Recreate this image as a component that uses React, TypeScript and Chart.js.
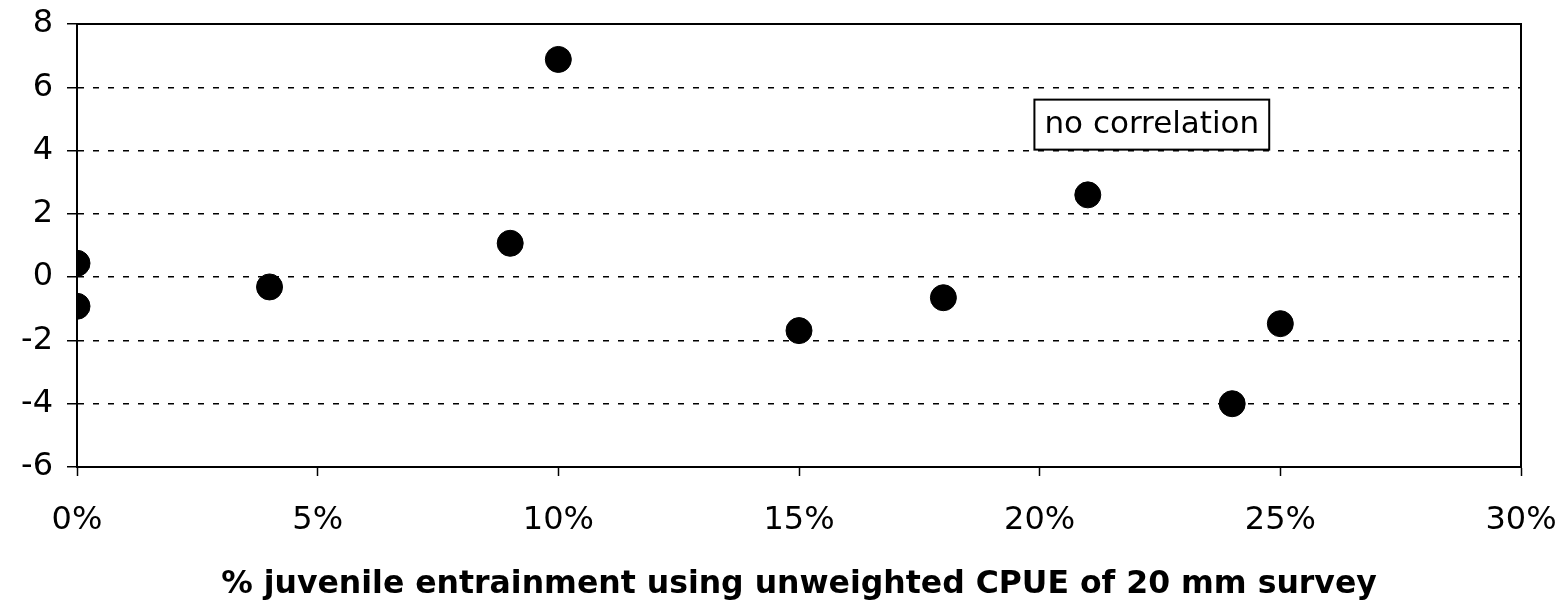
import React, { useEffect, useRef } from "react";
import { Chart, registerables } from "chart.js";

Chart.register(...registerables);

const xValues = [0, 0, 4, 9, 10, 15, 18, 21, 24, 25];
const yValues = [0.44, -0.92, -0.31, 1.07, 6.88, -1.69, -0.65, 2.6, -4.0, -1.47];
const xTitle = "% juvenile entrainment using unweighted CPUE of 20 mm survey";
const noteText = "no correlation";
const noteAt = { x: 22.33, y: 4.82 };

const FONT = "'DejaVu Sans', Verdana, sans-serif";

const framePlugin = {
  id: "frame",
  afterDraw(chart: any) {
    const { ctx, chartArea } = chart;
    const { left, right, top, bottom } = chartArea;
    ctx.save();
    ctx.strokeStyle = "#000";
    ctx.lineWidth = 2;
    ctx.setLineDash([]);
    ctx.strokeRect(left, top, right - left, bottom - top);
    // note box
    const xs = chart.scales.x;
    const ys = chart.scales.y;
    const px = xs.getPixelForValue(noteAt.x);
    const py = ys.getPixelForValue(noteAt.y);
    ctx.font = `31px ${FONT}`;
    const w = ctx.measureText(noteText).width;
    const bw = w + 20;
    const bh = 50;
    ctx.fillStyle = "#fff";
    ctx.fillRect(px - bw / 2, py - bh / 2, bw, bh);
    ctx.lineWidth = 2;
    ctx.strokeRect(px - bw / 2, py - bh / 2, bw, bh);
    ctx.fillStyle = "#000";
    ctx.textAlign = "center";
    ctx.textBaseline = "middle";
    ctx.fillText(noteText, px, py);
    ctx.restore();
  },
};

export default function App() {
  const ref = useRef<HTMLCanvasElement | null>(null);
  useEffect(() => {
    document.body.style.margin = "0";
    const canvas = ref.current!;
    const chart = new Chart(canvas, {
      type: "scatter",
      data: {
        datasets: [
          {
            data: xValues.map((x, i) => ({ x, y: yValues[i] })),
            backgroundColor: "#000",
            borderColor: "#000",
            pointRadius: 13,
            pointHoverRadius: 13,
          },
        ],
      },
      options: {
        animation: false,
        responsive: false,
        maintainAspectRatio: false,
        events: [],
        layout: { padding: { top: 24, right: 47, left: 0, bottom: 1 } },
        plugins: { legend: { display: false }, tooltip: { enabled: false } },
        scales: {
          x: {
            type: "linear",
            min: 0,
            max: 30,
            ticks: {
              stepSize: 5,
              color: "#000",
              font: { family: FONT, size: 32 },
              padding: 25,
              maxRotation: 0,
              callback: (v: any) => `${v}%`,
            },
            grid: {
              drawOnChartArea: false,
              drawTicks: true,
              tickLength: 9,
              tickColor: "#000",
              tickWidth: 1.5,
            },
            border: { display: true, color: "#000", width: 2 },
            title: {
              display: true,
              text: xTitle,
              color: "#000",
              font: { family: FONT, size: 31.5, weight: "bold" },
              padding: { top: 14, bottom: 0 },
            },
            afterFit: (s: any) => {
              s.height = 137;
              s.paddingLeft = 0;
              s.paddingRight = 0;
            },
          },
          y: {
            min: -6,
            max: 8,
            ticks: {
              stepSize: 2,
              color: "#000",
              font: { family: FONT, size: 32 },
              padding: 14,
            },
            grid: {
              color: "#000",
              lineWidth: 1.5,
              drawTicks: true,
              tickLength: 10,
              tickColor: "#000",
              tickWidth: 1.5,
            },
            border: { display: true, color: "#000", width: 2, dash: [6, 9] },
            afterFit: (s: any) => {
              s.width = 77;
              s.paddingTop = 0;
              s.paddingBottom = 0;
            },
          },
        },
      },
      plugins: [framePlugin],
    } as any);
    return () => chart.destroy();
  }, []);
  return (
    <div style={{ position: "absolute", left: 0, top: 0, width: 1568, height: 605, background: "#fff" }}>
      <canvas ref={ref} width={1568} height={605} style={{ width: 1568, height: 605 }} />
    </div>
  );
}
